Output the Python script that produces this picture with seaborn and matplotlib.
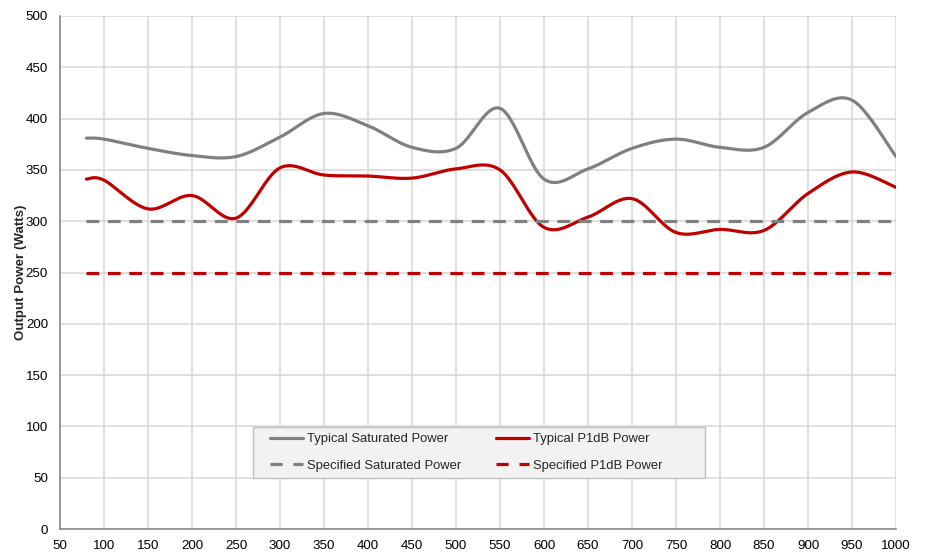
import numpy as np
import pandas as pd
import matplotlib
matplotlib.use("Agg")
import matplotlib.pyplot as plt
from matplotlib.lines import Line2D
from matplotlib.patches import Rectangle
import seaborn as sns

# ---- data ----
freq = [80, 100, 150, 200, 250, 300, 350, 400, 450, 500, 550, 600, 650, 700, 750, 800, 850, 900, 950, 1000]
typ_sat = [381, 380, 371, 364, 363, 382, 405, 393, 372, 371, 410, 341, 351, 371, 380, 372, 372, 406, 418, 363]
typ_p1db = [341, 340, 312, 325, 303, 352, 345, 344, 342, 351, 350, 294, 304, 322, 289, 292, 291, 327, 348, 333]
spec_freq = [80, 1000]
spec_sat = [300, 300]
spec_p1db = [250, 250]
labels = ["Typical Saturated Power", "Typical P1dB Power",
          "Specified Saturated Power", "Specified P1dB Power"]
xticks = list(range(50, 1001, 50))
yticks = list(range(0, 501, 50))

GRAY = "#808080"
RED = "#C00000"


def smooth(xs, ys, n=40):
    """Excel-like smoothed line (Catmull-Rom as cubic Bezier) through the points."""
    P = np.column_stack([xs, ys]).astype(float)
    P = np.vstack([P[0], P, P[-1]])
    out = []
    t = np.linspace(0, 1, n)[:, None]
    for i in range(1, len(P) - 2):
        p0, p1, p2, p3 = P[i - 1], P[i], P[i + 1], P[i + 2]
        c1 = p1 + (p2 - p0) / 6.0
        c2 = p2 - (p3 - p1) / 6.0
        seg = ((1 - t) ** 3) * p1 + 3 * ((1 - t) ** 2) * t * c1 + 3 * (1 - t) * t ** 2 * c2 + t ** 3 * p2
        out.append(seg if i == 1 else seg[1:])
    out = np.vstack(out)
    return out[:, 0], out[:, 1]


sns.set_style("white")
plt.rcParams["font.family"] = ["Liberation Sans", "DejaVu Sans"]

fig = plt.figure(figsize=(9.26, 5.52), dpi=100)
ax = fig.add_axes([60 / 926, 1 - 529 / 552, 836 / 926, 513 / 552])

sx, sy = smooth(freq, typ_sat)
px, py = smooth(freq, typ_p1db)
sns.lineplot(x=sx, y=sy, sort=False, ax=ax, color=GRAY, lw=2.3, estimator=None)
sns.lineplot(x=px, y=py, sort=False, ax=ax, color=RED, lw=2.3, estimator=None)
ax.plot(spec_freq, spec_sat, color=GRAY, lw=2.3, dashes=(4, 2.7))
ax.plot(spec_freq, spec_p1db, color=RED, lw=2.3, dashes=(4, 2.7))

ax.set_xlim(50, 1000)
ax.set_ylim(0, 500)
ax.set_xticks(xticks)
ax.set_yticks(yticks)
ax.tick_params(axis="both", labelsize=9.6, colors="#000000", length=2.5, width=1, direction="out")
ax.tick_params(axis="x", pad=5.7)
ax.tick_params(axis="y", pad=6.1)
for t in ax.xaxis.get_ticklines() + ax.yaxis.get_ticklines():
    t.set_color("#898989")
ax.grid(True, color="#d9d9d9", lw=1.2)
ax.set_axisbelow(True)
for s in ["top", "right"]:
    ax.spines[s].set_visible(False)
for s in ["left", "bottom"]:
    ax.spines[s].set_color("#898989")
    ax.spines[s].set_linewidth(1.2)
ax.set_ylabel("Output Power (Watts)", fontsize=9.6, fontweight="bold")
ax.yaxis.set_label_coords((27 - 60) / 836, 0.5)

# legend box (Excel-style)
box = Rectangle(((253 - 60) / 836, (529 - 478) / 513), (705 - 253) / 836, (478 - 427) / 513,
                transform=ax.transAxes, facecolor="#f2f2f2", edgecolor="#bfbfbf", lw=1.0, zorder=3)
ax.add_patch(box)

handles = [
    Line2D([], [], color=GRAY, lw=2.3),
    Line2D([], [], color=RED, lw=2.3),
    Line2D([], [], color=GRAY, lw=2.3, dashes=(3.8, 3.4)),
    Line2D([], [], color=RED, lw=2.3, dashes=(3.8, 3.4)),
]
order = [0, 2, 1, 3]
leg = ax.legend([handles[i] for i in order], [labels[i] for i in order],
                ncol=2, loc="upper left", bbox_to_anchor=((270 - 60) / 836, (529 - 433) / 513),
                fontsize=9.4, frameon=False, handlelength=2.5,
                handletextpad=0.35, columnspacing=2.65, labelspacing=1.1,
                borderpad=0, borderaxespad=0)
leg.set_zorder(4)

fig.savefig("out.png", dpi=100)
